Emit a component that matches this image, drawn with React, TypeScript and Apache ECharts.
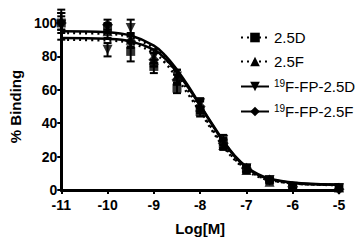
import React, { useEffect, useRef } from "react";
import * as echarts from "echarts";

const pointX = [-11, -10, -9.5, -9, -8.5, -8, -7.5, -7, -6.5, -6, -5];

const d25Mean = [100, 97, 83, 74, 61, 47, 28, 13, 6, 2, 1.5];
const d25Err = [4, 3, 6, 4, 3, 3, 3, 2, 1, 1, 1];
const f25Mean = [101, 95, 90, 78, 68, 50, 27, 12, 5, 2, 1.5];
const f25Err = [5, 4, 4, 4, 4, 4, 3, 2, 1, 1, 1];
const fpdMean = [99, 84, 97, 80, 68, 52, 30, 13, 6, 2, 1];
const fpdErr = [9, 4, 5, 4, 4, 3, 3, 2, 1, 1, 1];
const fpfMean = [100, 99, 89, 78, 66, 50, 28, 13, 6, 2, 0.5];
const fpfErr = [6, 3, 4, 4, 3, 3, 3, 2, 1, 1, 1];

const curveX = [-11, -10, -9.5, -9, -8.75, -8.5, -8.25, -8, -7.75, -7.5, -7.25, -7, -6.75, -6.5, -6, -5.5, -5];
const d25Curve = [90, 89.5, 88, 82, 76, 67, 57, 47, 36, 26, 18, 12, 8, 6, 4, 3.3, 3];
const f25Curve = [94, 93.5, 91.5, 85, 78.5, 69.5, 59, 48, 37, 27, 18.5, 12.5, 8.5, 6, 4, 3.2, 3];
const fpdCurve = [91, 90.5, 89, 84, 78.5, 70.5, 61, 50.5, 39.5, 29, 20, 13.5, 9, 6.5, 4.2, 3.4, 3.2];
const fpfCurve = [95, 94.5, 92.5, 86.5, 80.5, 72, 62, 51, 40, 29.5, 20.5, 14, 9.5, 6.8, 4.5, 3.6, 3.3];

const xTicks = [-11, -10, -9, -8, -7, -6, -5];

const seriesNames = ["2.5D", "2.5F", "19F-FP-2.5D", "19F-FP-2.5F"];

const FONT = "Liberation Sans, Arial, sans-serif";

export default function App() {
  const ref = useRef<HTMLDivElement>(null);
  useEffect(() => {
    if (!ref.current) return;
    const chart = echarts.init(ref.current, null, { renderer: "svg" });

    const defs = [
      { name: seriesNames[0], mean: d25Mean, err: d25Err, curve: d25Curve, symbol: "rect", size: 9, rotate: 0, dashed: true },
      { name: seriesNames[1], mean: f25Mean, err: f25Err, curve: f25Curve, symbol: "triangle", size: 10, rotate: 0, dashed: true },
      { name: seriesNames[2], mean: fpdMean, err: fpdErr, curve: fpdCurve, symbol: "triangle", size: 10, rotate: 180, dashed: false },
      { name: seriesNames[3], mean: fpfMean, err: fpfErr, curve: fpfCurve, symbol: "diamond", size: 11, rotate: 0, dashed: false },
    ];

    const series: any[] = [];
    defs.forEach((d) => {
      series.push({
        type: "line",
        name: d.name,
        data: curveX.map((x, i) => [x, d.curve[i]]),
        smooth: 0.4,
        symbol: d.symbol,
        symbolSize: d.size,
        symbolRotate: d.rotate,
        showSymbol: false,
        itemStyle: { color: "#000" },
        lineStyle: { color: "#000", width: 2.5, type: d.dashed ? [2, 4] : "solid" },
        z: 2,
      });
      series.push({
        type: "custom",
        name: d.name + "-err",
        data: pointX.map((x, i) => [x, d.mean[i] - d.err[i], d.mean[i] + d.err[i]]),
        renderItem: (params: any, api: any) => {
          const lo = api.coord([api.value(0), api.value(1)]);
          const hi = api.coord([api.value(0), api.value(2)]);
          const w = 4;
          const st = { stroke: "#000", lineWidth: 2 };
          return {
            type: "group",
            children: [
              { type: "line", shape: { x1: lo[0], y1: lo[1], x2: hi[0], y2: hi[1] }, style: st },
              { type: "line", shape: { x1: lo[0] - w, y1: lo[1], x2: lo[0] + w, y2: lo[1] }, style: st },
              { type: "line", shape: { x1: hi[0] - w, y1: hi[1], x2: hi[0] + w, y2: hi[1] }, style: st },
            ],
          };
        },
        encode: { x: 0, y: [1, 2] },
        z: 3,
      });
      series.push({
        type: "scatter",
        name: d.name + "-pts",
        data: pointX.map((x, i) => [x, d.mean[i]]),
        symbol: d.symbol,
        symbolSize: d.size,
        symbolRotate: d.rotate,
        itemStyle: { color: "#000" },
        z: 4,
      });
    });

    chart.setOption({
      animation: false,
      grid: { left: 56, right: 19, top: 23, bottom: 48 },
      legend: {
        data: seriesNames,
        orient: "vertical",
        left: 235,
        top: 25,
        itemWidth: 28,
        itemHeight: 12,
        itemGap: 9,
        textStyle: {
          fontFamily: FONT,
          fontSize: 15,
          color: "#000",
          rich: {
            sup: { fontSize: 10, fontFamily: FONT, color: "#000", verticalAlign: "top", padding: [0, 0, 7, 0] },
            n: { fontSize: 15, fontFamily: FONT, color: "#000" },
          },
        },
        formatter: (name: string) =>
          name.startsWith("19") ? "{sup|19}{n|" + name.slice(2) + "}" : name,
      },
      xAxis: {
        type: "value",
        min: -11,
        max: -5,
        interval: 1,
        name: "Log[M]",
        nameLocation: "middle",
        nameGap: 31,
        nameTextStyle: { fontFamily: FONT, fontSize: 15, fontWeight: "bold", color: "#000" },
        axisLine: { lineStyle: { color: "#000", width: 3 } },
        axisTick: { length: 4, lineStyle: { color: "#000", width: 2 } },
        axisLabel: {
          fontFamily: FONT,
          fontSize: 14,
          fontWeight: "bold",
          color: "#000",
          margin: 8,
          formatter: (v: number) => (xTicks.includes(v) ? String(v) : ""),
        },
        splitLine: { show: false },
      },
      yAxis: {
        type: "value",
        min: 0,
        max: 100,
        interval: 20,
        name: "% Binding",
        nameLocation: "middle",
        nameGap: 38,
        nameTextStyle: { fontFamily: FONT, fontSize: 15, fontWeight: "bold", color: "#000" },
        axisLine: { show: true, lineStyle: { color: "#000", width: 3 } },
        axisTick: { show: true, length: 4, lineStyle: { color: "#000", width: 2 } },
        axisLabel: { fontFamily: FONT, fontSize: 14, fontWeight: "bold", color: "#000", margin: 4 },
        splitLine: { show: false },
      },
      series,
    });
    return () => chart.dispose();
  }, []);
  return <div ref={ref} style={{ width: 358, height: 241, position: "absolute", left: 0, top: 0, background: "#fff" }} />;
}
